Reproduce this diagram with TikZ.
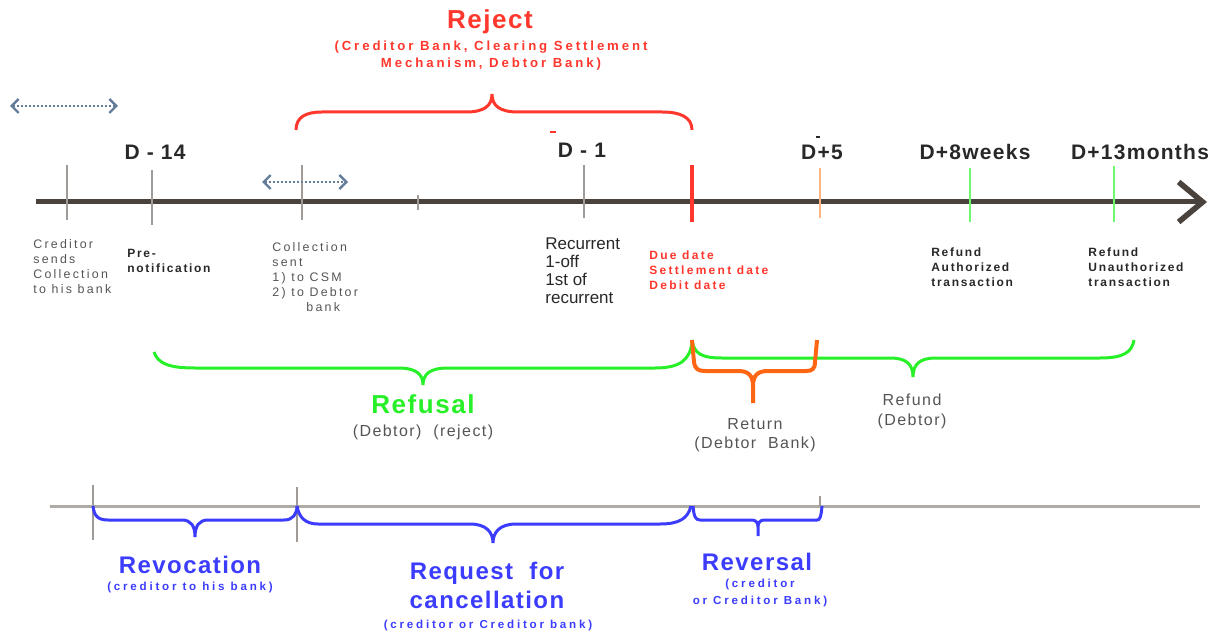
\documentclass[tikz,border=0pt]{standalone}
\usepackage{fontspec}
\setmainfont{Liberation Sans}
\newfontfamily\trkS[LetterSpace=18]{Liberation Sans}
\newfontfamily\trkB[LetterSpace=14]{Liberation Sans}
\newfontfamily\trkR[LetterSpace=19]{Liberation Sans}
\newfontfamily\trkT[LetterSpace=6]{Liberation Sans}
\newfontfamily\trkU[LetterSpace=24]{Liberation Sans}
\newfontfamily\trkV[LetterSpace=22]{Liberation Sans}
\newfontfamily\trkM[LetterSpace=9]{Liberation Sans}
\usetikzlibrary{arrows.meta}
\definecolor{axisc}{RGB}{74,66,60}
\definecolor{tickc}{RGB}{160,155,150}
\definecolor{redc}{RGB}{255,55,45}
\definecolor{grnc}{RGB}{40,240,40}
\definecolor{orgc}{RGB}{255,102,20}
\definecolor{bluc}{RGB}{60,60,255}
\definecolor{dotc}{RGB}{100,125,155}
\definecolor{txtg}{RGB}{85,85,85}
\definecolor{txtd}{RGB}{40,40,40}
\definecolor{ltorg}{RGB}{255,180,130}
\definecolor{ltgrn}{RGB}{110,250,110}
\begin{document}
\begin{tikzpicture}[x=0.5pt,y=-0.5pt,
  lbl/.style={inner sep=0pt, anchor=north west, align=left},
  ctr/.style={inner sep=0pt, anchor=center, align=center},
  topc/.style={inner sep=0pt, anchor=north, align=center},
  dlab/.style={ctr, font=\trkT\bfseries\fontsize{10.5}{12}\selectfont, text=txtd},
  small/.style={font=\trkS\fontsize{6.2}{7.5}\selectfont, text=txtg},
  smallb/.style={font=\trkB\bfseries\fontsize{6}{7.5}\selectfont, text=txtd},
  redlab/.style={font=\trkR\bfseries\fontsize{6}{7.5}\selectfont, text=redc},
  midg/.style={font=\trkM\fontsize{8}{9.75}\selectfont, text=txtg},
  bigt/.style={font=\trkT\bfseries\fontsize{13}{15}\selectfont},
  bluet/.style={font=\trkT\bfseries\fontsize{12}{14.5}\selectfont, text=bluc},
  subt/.style={font=\trkU\bfseries\fontsize{5.8}{8.5}\selectfont},
  rsubt/.style={font=\trkV\bfseries\fontsize{6.6}{8.5}\selectfont, text=redc},
  axisline/.style={draw=axisc, line width=2.5pt, -{Straight Barb[length=12pt,width=20pt,line width=2.8pt]}},
  tickline/.style={draw=tickc, line width=0.8pt},
  dotarr/.style={draw=dotc, line width=1pt, densely dotted,
     {Straight Barb[length=3.5pt,width=7pt,line width=1.2pt,sep=0pt]}-{Straight Barb[length=3.5pt,width=7pt,line width=1.2pt]}},
  rbrace/.style={draw=redc, line width=1.5pt},
  gbrace/.style={draw=grnc, line width=1.5pt},
  obrace/.style={draw=orgc, line width=2pt},
  bbrace/.style={draw=bluc, line width=1.5pt},
  bline/.style={draw=tickc!85, line width=1.5pt}
]
\useasboundingbox (0,0) rectangle (1219,636);

% ---------- main time axis ----------
\coordinate (ax0) at (36,202);
\coordinate (ax1) at (1207,202);
\draw[axisline] (ax0) -- (ax1);

% ticks
\draw[tickline] (67,165) -- (67,220);
\draw[tickline] (152,170) -- (152,225);
\draw[tickline] (302,165) -- (302,220);
\draw[tickline] (418,195) -- (418,210);
\draw[tickline] (584,165) -- (584,218);
\draw[draw=redc, line width=2pt] (692,165) -- (692,222);
\draw[draw=ltorg, line width=1pt] (820,168) -- (820,218);
\draw[draw=ltgrn, line width=1pt] (970,168) -- (970,222);
\draw[draw=ltgrn, line width=1pt] (1114,166) -- (1114,222);
\draw[draw=redc, line width=0.8pt] (550,132) -- (556,132);
\draw[draw=txtd, line width=0.6pt] (816,137) -- (820,137);

% dotted double arrows
\coordinate (da1) at (10,106);
\coordinate (da2) at (118,106);
\draw[dotarr] (da1) -- (da2);
\coordinate (db1) at (262,182);
\coordinate (db2) at (348,182);
\draw[dotarr] (db1) -- (db2);

% ---------- labels above the axis ----------
\node[dlab] (dm14) at (155,152) {D - 14};
\node[dlab] (dm1) at (582,150) {D - 1};
\node[dlab] (dp5) at (822,152) {D+5};
\node[dlab] (dp8w) at (975,152) {D+8weeks};
\node[dlab] (dp13m) at (1140,152) {D+13months};

% ---------- Reject ----------
\node[ctr, bigt, text=redc] (reject) at (490,22) {Reject};
\node[topc, rsubt] (rejectsub) at (491,40.5)
  {(Creditor Bank, Clearing Settlement\\Mechanism, Debtor Bank)};
\draw[rbrace] (296,130) .. controls (296,117) and (306,112) .. (322,112) -- (466,112)
  .. controls (484,112) and (492,106) .. (492,94)
  .. controls (492,106) and (500,112) .. (518,112) -- (662,112)
  .. controls (680,112) and (692,117) .. (692,130);

% ---------- labels below the axis ----------
\node[lbl, small] (cred) at (33,239.5) {Creditor\\sends\\Collection\\to his bank};
\node[lbl, smallb] (prenot) at (127,248.5) {Pre-\\notification};
\node[lbl, small] (collsent) at (272,242.5) {Collection\\sent\\1) to CSM\\2) to Debtor\\\hspace*{17pt}bank};
\node[lbl, font=\fontsize{8.5}{9}\selectfont, text=txtd] (recur) at (545,237) {Recurrent\\1-off\\1st of\\recurrent};
\node[lbl, redlab] (duedate) at (649,250.5) {Due date\\Settlement date\\Debit date};
\node[lbl, smallb] (refauth) at (931,247.5) {Refund\\Authorized\\transaction};
\node[lbl, smallb] (refunauth) at (1088,247.5) {Refund\\Unauthorized\\transaction};

% ---------- Refusal / Return / Refund braces ----------
\draw[gbrace] (154,352) .. controls (158,364) and (170,368) .. (195,368) -- (398,368)
  .. controls (416,368) and (423,374) .. (423,385)
  .. controls (423,374) and (430,368) .. (448,368) -- (655,368)
  .. controls (680,368) and (690,360) .. (692,342);
\draw[gbrace] (692,340) .. controls (694,354) and (702,358) .. (722,358) -- (890,358)
  .. controls (906,358) and (913,364) .. (913,377)
  .. controls (913,364) and (920,358) .. (936,358) -- (1100,358)
  .. controls (1124,358) and (1132,352) .. (1134,340);
\draw[obrace] (692,340) -- (694,362) .. controls (695,369) and (698,371) .. (705,371) -- (738,371)
  .. controls (748,371) and (753,375) .. (753,386) -- (753,403)
  (753,386) .. controls (753,375) and (758,371) .. (768,371) -- (806,371)
  .. controls (812,371) and (815,369) .. (815,362) -- (817,340);

\node[ctr, bigt, text=grnc] (refusal) at (423,404) {Refusal};
\node[ctr, midg] (refusalsub) at (423,432) {(Debtor)\ \ (reject)};
\node[topc, midg] (return) at (755,418) {Return\\(Debtor\ \ Bank)};
\node[topc, midg] (refund) at (912,394) {Refund\\(Debtor)};

% ---------- lower line ----------
\coordinate (bl0) at (50,506);
\coordinate (bl1) at (1200,506);
\draw[bline] (bl0) -- (bl1);
\draw[tickline, line width=1pt] (93,485) -- (93,540);
\draw[tickline, line width=1pt] (297,487) -- (297,542);
\draw[tickline, line width=1pt] (820,496) -- (820,506);

\draw[bbrace] (93,506) .. controls (94,516) and (98,520) .. (108,520) -- (182,520)
  .. controls (191,520) and (195,526) .. (195,537)
  .. controls (195,526) and (199,520) .. (208,520) -- (284,520)
  .. controls (293,520) and (297,514) .. (297,506);
\draw[bbrace] (297,506) .. controls (299,518) and (306,524) .. (318,524) -- (470,524)
  .. controls (486,524) and (493,532) .. (493,543)
  .. controls (493,532) and (500,524) .. (516,524) -- (660,524)
  .. controls (680,524) and (688,518) .. (691,506);
\draw[bbrace] (693,506) .. controls (694,516) and (695,520) .. (700,520) -- (752,520)
  .. controls (756,520) and (758,523) .. (758,527) -- (758,536)
  (758,527) .. controls (758,523) and (760,520) .. (764,520) -- (817,520)
  .. controls (820,520) and (821,517) .. (822,506);

\node[ctr, bluet] (revoc) at (190,565) {Revocation};
\node[ctr, subt, text=bluc] (revocsub) at (190,587) {(creditor to his bank)};
\node[topc, bluet] (reqcanc) at (487,562) {Request\ \ for\\cancellation};
\node[ctr, subt, text=bluc] (reqcancsub) at (488,625) {(creditor or Creditor bank)};
\node[ctr, bluet] (revers) at (757,562) {Reversal};
\node[topc, subt, text=bluc] (reverssub) at (760,579) {(creditor\\or Creditor Bank)};
\end{tikzpicture}
\end{document}
